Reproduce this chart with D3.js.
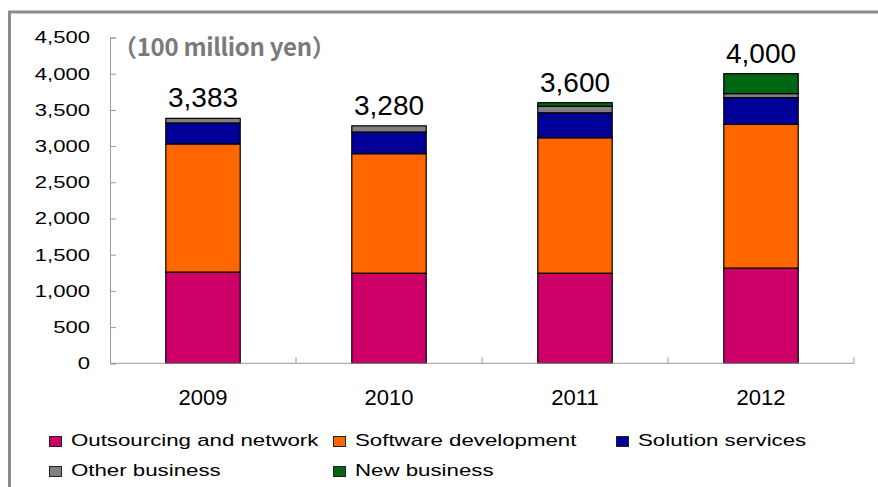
<!DOCTYPE html>
<html>
<head>
<meta charset="utf-8">
<script src="https://cdn.jsdelivr.net/npm/d3@7.9.0/dist/d3.min.js"></script>
<style>
  body { margin: 0; background: #fff; }
  svg { display: block; font-family: "Liberation Sans", Arial, sans-serif; }
</style>
</head>
<body>
<svg id="chart" width="878" height="487"></svg>
<script>
// data (100 million yen)
const years = ['2009', '2010', '2011', '2012'];
const seriesNames = ['Outsourcing and network', 'Software development', 'Solution services', 'Other business', 'New business'];
const outsourcing = [1260, 1245, 1245, 1315];
const software = [1770, 1650, 1870, 1985];
const solution = [290, 300, 345, 370];
const other = [63, 85, 90, 55];
const newBusiness = [0, 0, 50, 275];
const totals = [3383, 3280, 3600, 4000];
const yTicks = [0, 500, 1000, 1500, 2000, 2500, 3000, 3500, 4000, 4500];
const colors = ['#cc0066', '#ff6600', '#000099', '#808080', '#006614'];

const keys = ['outsourcing', 'software', 'solution', 'other', 'newBusiness'];
const table = years.map((year, i) => ({
  year,
  outsourcing: outsourcing[i],
  software: software[i],
  solution: solution[i],
  other: other[i],
  newBusiness: newBusiness[i],
  total: totals[i]
}));

const svg = d3.select('#chart');

// outer frame (runs off the right and bottom edges)
svg.append('rect')
  .attr('x', 9.5).attr('y', 12)
  .attr('width', 900).attr('height', 500)
  .attr('fill', 'none')
  .attr('stroke', '#8c8c8c')
  .attr('stroke-width', 3);

const x = d3.scaleBand()
  .domain(years)
  .range([110, 854])
  .paddingInner(0.6)
  .paddingOuter(0.3);

const y = d3.scaleLinear()
  .domain([0, 4500])
  .range([363.3, 37.5]);

const stack = d3.stack().keys(keys);
const layers = stack(table);

svg.append('g')
  .selectAll('g')
  .data(layers)
  .join('g')
  .attr('fill', (d, i) => colors[i])
  .selectAll('rect')
  .data((d) => d.filter((s) => s[1] - s[0] > 0))
  .join('rect')
  .attr('x', (d) => x(d.data.year))
  .attr('y', (d) => y(d[1]))
  .attr('width', x.bandwidth())
  .attr('height', (d) => y(d[0]) - y(d[1]))
  .attr('stroke', '#000')
  .attr('stroke-width', 1.2);

// y axis (labels are drawn wide, like the original font)
const yAxis = svg.append('g')
  .attr('transform', 'translate(110,0)')
  .call(d3.axisLeft(y).tickValues(yTicks).tickSize(-6)
    .tickFormat(d3.format(',')));
yAxis.select('.domain').attr('stroke', '#9a9a9a');
yAxis.selectAll('.tick line').attr('stroke', '#9a9a9a');
yAxis.selectAll('.tick text')
  .attr('x', 0)
  .attr('transform', 'translate(-20,0) scale(1.3,1)')
  .attr('fill', '#000')
  .style('font-size', '17px');

// x axis with upward ticks at category boundaries
const xAxis = svg.append('g').attr('transform', `translate(0,${y(0)})`);
xAxis.append('line')
  .attr('x1', x.range()[0]).attr('x2', x.range()[1])
  .attr('stroke', '#9a9a9a');
xAxis.selectAll('.bound')
  .data(years)
  .join('line')
  .attr('class', 'bound')
  .attr('x1', (d, i) => x.range()[0] + (i + 1) * x.step())
  .attr('x2', (d, i) => x.range()[0] + (i + 1) * x.step())
  .attr('y1', 0).attr('y2', -6)
  .attr('stroke', '#9a9a9a');
xAxis.selectAll('.lab')
  .data(years)
  .join('text')
  .attr('class', 'lab')
  .attr('x', (d) => x(d) + x.bandwidth() / 2)
  .attr('y', 42)
  .attr('text-anchor', 'middle')
  .style('font-size', '22px')
  .text((d) => d);

// total labels
svg.append('g')
  .selectAll('text')
  .data(table)
  .join('text')
  .attr('x', (d) => x(d.year) + x.bandwidth() / 2)
  .attr('y', (d) => y(d.total) - 11)
  .attr('text-anchor', 'middle')
  .style('font-size', '28px')
  .text((d) => d3.format(',')(d.total));

// unit label
svg.append('text')
  .attr('x', 113).attr('y', 56)
  .attr('fill', '#7a7a7a')
  .style('font-family', '"Noto Sans CJK JP", sans-serif')
  .style('font-weight', 'bold')
  .style('font-size', '24px')
  .style('letter-spacing', '-0.3px')
  .text('（100 million yen）');

// legend
const legendPos = [[49, 436], [333, 436], [616, 436], [49, 466], [333, 466]];
const legend = svg.append('g')
  .selectAll('g')
  .data(seriesNames)
  .join('g')
  .attr('transform', (d, i) => `translate(${legendPos[i][0]},${legendPos[i][1]})`);
legend.append('rect')
  .attr('x', 0.5).attr('y', 0.5)
  .attr('width', 12).attr('height', 10)
  .attr('fill', (d, i) => colors[i])
  .attr('stroke', '#222')
  .attr('stroke-width', 1);
legend.append('text')
  .attr('transform', 'translate(22,10) scale(1.31,1)')
  .style('font-size', '17px')
  .text((d) => d);
</script>
</body>
</html>
